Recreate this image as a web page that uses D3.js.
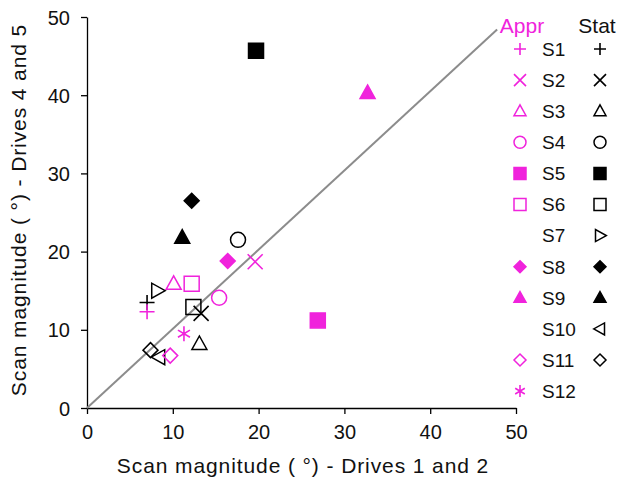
<!DOCTYPE html>
<html lang="en">
  <head>
    <meta charset="UTF-8" />
    <title>Scan magnitude</title>
    <script src="https://cdn.jsdelivr.net/npm/d3@7"></script>
    <style>
      body { margin: 0; background: #fff; }
      text { font-family: "Liberation Sans", Arial, sans-serif; }
    </style>
  </head>
  <body>
    <svg width="621" height="480"></svg>

    <script>
      var subjects = ["S1", "S2", "S3", "S4", "S5", "S6", "S7", "S8", "S9", "S10", "S11", "S12"];
      var shapes = ["plus", "cross", "triangle", "circle", "square", "square", "triRight", "diamond", "triangle", "triLeft", "diamond", "asterisk"];
      var filled = [false, false, false, false, true, false, false, true, true, false, false, false];
      // null = no value for that subject
      var apprX = [7.0, 19.6, 10.1, 15.4, 26.9, 12.2, null, 16.4, 32.7, null, 9.7, 11.3];
      var apprY = [12.3, 18.7, 15.9, 14.1, 11.2, 15.9, null, 18.8, 40.3, null, 6.7, 9.5];
      var statX = [7.0, 13.3, 13.1, 17.6, 19.7, 12.4, 8.2, 12.2, 11.1, 8.4, 7.4, null];
      var statY = [13.5, 12.1, 8.2, 21.5, 45.7, 12.9, 15.0, 26.5, 21.8, 6.5, 7.4, null];
      var xTicks = [0, 10, 20, 30, 40, 50];
      var yTicks = [0, 10, 20, 30, 40, 50];
      var magenta = "#f023dc";

      var svg = d3.select("svg");
      var x = d3.scaleLinear().domain([0, 50]).range([87, 516]);
      var y = d3.scaleLinear().domain([0, 50]).range([408, 17]);

      // shape path, s = full width
      function shapePath(type, s) {
        var h = s / 2;
        if (type == "plus") return "M" + -h + ",0H" + h + "M0," + -h + "V" + h;
        if (type == "cross") return "M" + -h + "," + -h + "L" + h + "," + h + "M" + -h + "," + h + "L" + h + "," + -h;
        if (type == "asterisk") {
          var a = h * 0.8;
          return "M0," + -h + "V" + h + "M" + -a + "," + -a * 0.6 + "L" + a + "," + a * 0.6 + "M" + -a + "," + a * 0.6 + "L" + a + "," + -a * 0.6;
        }
        if (type == "triangle") return "M0," + -h * 1.05 + "L" + h + "," + h * 0.75 + "L" + -h + "," + h * 0.75 + "Z";
        if (type == "triRight") return "M" + h * 1.05 + ",0L" + -h * 0.75 + "," + h + "L" + -h * 0.75 + "," + -h + "Z";
        if (type == "triLeft") return "M" + -h * 1.05 + ",0L" + h * 0.75 + "," + h + "L" + h * 0.75 + "," + -h + "Z";
        if (type == "square") return "M" + -h + "," + -h + "H" + h + "V" + h + "H" + -h + "Z";
        if (type == "diamond") return "M0," + -h + "L" + h + ",0L0," + h + "L" + -h + ",0Z";
        if (type == "circle") return "M" + h + ",0A" + h + "," + h + " 0 1 1 " + -h + ",0A" + h + "," + h + " 0 1 1 " + h + ",0Z";
      }

      function drawMark(sel, i, color, size, cx, cy) {
        var lineOnly = ["plus", "cross", "asterisk"].indexOf(shapes[i]) >= 0;
        sel.append("path")
          .attr("d", shapePath(shapes[i], size))
          .attr("transform", "translate(" + cx + "," + cy + ")")
          .attr("fill", filled[i] ? color : "none")
          .attr("stroke", color)
          .attr("stroke-width", lineOnly ? 1.6 : 1.5);
      }

      // axes
      var gx = svg.append("g")
        .attr("transform", "translate(0," + y(0) + ")")
        .call(d3.axisBottom(x).tickValues(xTicks).tickSize(6).tickSizeOuter(0));
      var gy = svg.append("g")
        .attr("transform", "translate(" + x(0) + ",0)")
        .call(d3.axisLeft(y).tickValues(yTicks).tickSize(6).tickSizeOuter(0));
      [gx, gy].forEach(function (g) {
        g.selectAll("path, line").attr("stroke", "#000").attr("stroke-width", 1.3);
        g.selectAll("text").attr("font-size", 20).attr("fill", "#111")
          .attr("font-family", "Liberation Sans, Arial, sans-serif");
      });
      gx.selectAll("text").attr("y", 12).attr("dy", "0.95em");
      gy.selectAll("text").attr("x", -17).attr("dy", "0.35em");

      // identity line
      svg.append("line")
        .attr("x1", x(0)).attr("y1", y(0))
        .attr("x2", x(47.8)).attr("y2", y(48.4))
        .attr("stroke", "#8c8c8c").attr("stroke-width", 2);

      // axis titles
      svg.append("text")
        .attr("x", 303).attr("y", 473)
        .attr("text-anchor", "middle").attr("font-size", 21).attr("letter-spacing", 0.9)
        .attr("fill", "#111")
        .text("Scan magnitude ( °) - Drives 1 and 2");
      svg.append("text")
        .attr("transform", "translate(26,210) rotate(-90)")
        .attr("text-anchor", "middle").attr("font-size", 21).attr("letter-spacing", 0.9)
        .attr("fill", "#111")
        .text("Scan magnitude ( °) - Drives 4 and 5");

      // points
      var pts = svg.append("g");
      subjects.forEach(function (s, i) {
        if (statX[i] != null) drawMark(pts, i, "#000", 15, x(statX[i]), y(statY[i]));
        if (apprX[i] != null) drawMark(pts, i, magenta, 15, x(apprX[i]), y(apprY[i]));
      });

      // legend
      var leg = svg.append("g");
      leg.append("text").attr("x", 522).attr("y", 33).attr("text-anchor", "middle")
        .attr("font-size", 21).attr("fill", magenta).text("Appr");
      leg.append("text").attr("x", 597).attr("y", 33).attr("text-anchor", "middle")
        .attr("font-size", 21).attr("fill", "#111").text("Stat");
      subjects.forEach(function (s, i) {
        var ly = 49 + i * 31.1;
        if (apprX[i] != null) drawMark(leg, i, magenta, 12, 520, ly);
        if (statX[i] != null) drawMark(leg, i, "#000", 12, 600, ly);
        leg.append("text").attr("x", 542).attr("y", ly).attr("dy", "0.36em")
          .attr("font-size", 19).attr("fill", "#111").text(s);
      });
    </script>
  </body>
</html>
